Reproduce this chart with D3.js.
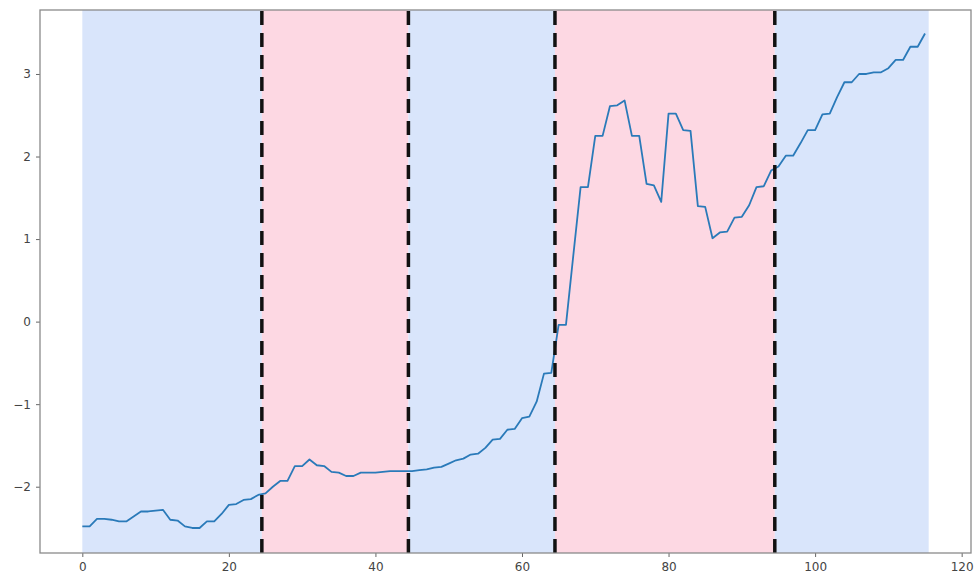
<!DOCTYPE html>
<html>
<head>
<meta charset="utf-8">
<script src="https://cdn.jsdelivr.net/npm/d3@7"></script>
<style>
  html, body { margin: 0; padding: 0; background: #fff; }
  svg { display: block; }
  .tick text { font-family: "DejaVu Sans", sans-serif; font-size: 12px; fill: #444; }
</style>
</head>
<body>
<svg id="chart" width="975" height="576"></svg>
<script>
// ---- data ----
const values = [
  -2.48, -2.48, -2.39, -2.39, -2.40, -2.42, -2.42, -2.36, -2.30, -2.30,
  -2.29, -2.28, -2.40, -2.41, -2.48, -2.50, -2.50, -2.42, -2.42, -2.33,
  -2.22, -2.21, -2.16, -2.15, -2.10, -2.08, -2.00, -1.93, -1.93, -1.75,
  -1.75, -1.67, -1.74, -1.75, -1.82, -1.83, -1.87, -1.87, -1.83, -1.83,
  -1.83, -1.82, -1.81, -1.81, -1.81, -1.81, -1.80, -1.79, -1.77, -1.76,
  -1.72, -1.68, -1.66, -1.61, -1.60, -1.53, -1.43, -1.42, -1.31, -1.30,
  -1.17, -1.15, -0.97, -0.63, -0.62, -0.04, -0.04, 0.80, 1.63, 1.63,
  2.25, 2.25, 2.61, 2.62, 2.68, 2.25, 2.25, 1.67, 1.65, 1.45,
  2.52, 2.52, 2.32, 2.31, 1.40, 1.39, 1.01, 1.08, 1.09, 1.26,
  1.27, 1.41, 1.63, 1.64, 1.83, 1.88, 2.01, 2.01, 2.16, 2.32,
  2.32, 2.51, 2.52, 2.72, 2.90, 2.90, 3.00, 3.00, 3.02, 3.02,
  3.07, 3.17, 3.17, 3.33, 3.33, 3.49
];
const spanStarts = [0, 24.5, 44.5, 64.5, 94.5];
const spanEnds   = [24.5, 44.5, 64.5, 94.5, 115.5];
const spanKinds  = ["blue", "pink", "blue", "pink", "blue"];
const breakpoints = [24.5, 44.5, 64.5, 94.5];
const xTicks = [0, 20, 40, 60, 80, 100, 120];
const yTicks = [-2, -1, 0, 1, 2, 3];

// ---- layout ----
const L = 40, R = 971, T = 10, B = 553;
const svg = d3.select("#chart");

const x = d3.scaleLinear().domain([-5.775, 121.275]).range([L, R]);
const y = d3.scaleLinear().domain([-2.803, 3.775]).range([B, T]);

const spanColor = { blue: "#d9e5fb", pink: "#fdd8e3" };

// spans
svg.append("g").selectAll("rect")
  .data(spanStarts.map((s, i) => ({ s, e: spanEnds[i], k: spanKinds[i] })))
  .join("rect")
  .attr("x", d => x(d.s))
  .attr("width", d => x(d.e) - x(d.s))
  .attr("y", T)
  .attr("height", B - T)
  .attr("fill", d => spanColor[d.k]);

// line
const line = d3.line().x((d, i) => x(i)).y(d => y(d));
svg.append("path")
  .datum(values)
  .attr("fill", "none")
  .attr("stroke", "#2a7ab9")
  .attr("stroke-width", 1.8)
  .attr("stroke-linejoin", "round")
  .attr("d", line);

// dashed breakpoints
svg.append("g").selectAll("line")
  .data(breakpoints)
  .join("line")
  .attr("x1", d => x(d)).attr("x2", d => x(d))
  .attr("y1", B).attr("y2", T)
  .attr("stroke", "#111")
  .attr("stroke-width", 3.5)
  .attr("stroke-dasharray", "14,8");

// axes
const fmt = d => (d < 0 ? "\u2212" + Math.abs(d) : String(d));
const xAxis = svg.append("g").attr("transform", `translate(0,${B})`)
  .call(d3.axisBottom(x).tickValues(xTicks).tickFormat(fmt).tickSize(4).tickPadding(5));
const yAxis = svg.append("g").attr("transform", `translate(${L},0)`)
  .call(d3.axisLeft(y).tickValues(yTicks).tickFormat(fmt).tickSize(4).tickPadding(5));
[xAxis, yAxis].forEach(a => {
  a.select(".domain").remove();
  a.selectAll(".tick line").attr("stroke", "#666");
});

// frame
svg.append("rect")
  .attr("x", L).attr("y", T)
  .attr("width", R - L).attr("height", B - T)
  .attr("fill", "none")
  .attr("stroke", "#8a8a8a")
  .attr("stroke-width", 1.3);
</script>
</body>
</html>
